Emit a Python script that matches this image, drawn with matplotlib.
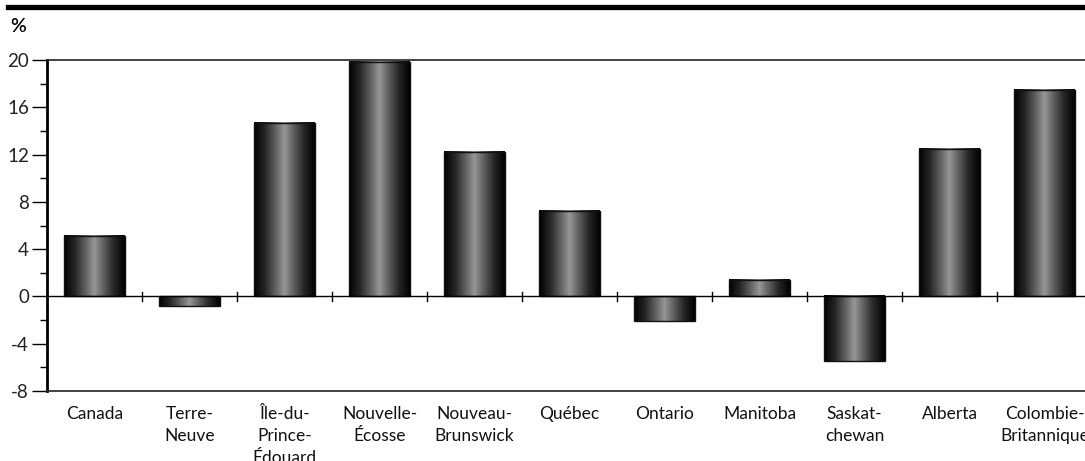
import numpy as np
import matplotlib.pyplot as plt
from matplotlib.lines import Line2D
from matplotlib.colors import LinearSegmentedColormap

plt.rcParams['font.family'] = ['Lato', 'DejaVu Sans']

# data
provinces = ['Canada', 'Terre-\nNeuve', 'Île-du-\nPrince-\nÉdouard', 'Nouvelle-\nÉcosse',
             'Nouveau-\nBrunswick', 'Québec', 'Ontario', 'Manitoba', 'Saskat-\nchewan',
             'Alberta', 'Colombie-\nBritannique']
values = [5.1, -0.8, 14.7, 19.8, 12.2, 7.2, -2.1, 1.4, -5.5, 12.5, 17.5]
yticks = [-8, -4, 0, 4, 8, 12, 16, 20]

fig = plt.figure(figsize=(10.85, 4.61), dpi=100)
ax = fig.add_axes([47 / 1085, 1 - 391 / 461, 1045 / 1085, 331 / 461])

# cylinder-like shading
cmap = LinearSegmentedColormap.from_list('cyl', [
    (0.0, '#000000'), (0.18, '#262626'), (0.38, '#6a6a6a'),
    (0.5, '#979797'), (0.62, '#6a6a6a'), (0.82, '#262626'), (1.0, '#000000')])
grad = np.linspace(0, 1, 256).reshape(1, -1)

x = np.arange(len(values))
width = 0.64
bars = ax.bar(x, values, width=width, color='none', edgecolor='#111111', linewidth=1.0, zorder=3)
for b in bars:
    x0, y0 = b.get_x(), b.get_y()
    w, h = b.get_width(), b.get_height()
    ax.imshow(grad, cmap=cmap, aspect='auto', extent=(x0, x0 + w, y0, y0 + h), zorder=2)

ax.set_xlim(-0.5, len(values) - 0.5)
ax.set_ylim(-8, 20)

# zero line with category separators
ax.axhline(0, color='black', linewidth=1.0, zorder=4)
for k in range(1, len(values)):
    ax.plot([k - 0.5, k - 0.5], [-0.35, 0.35], color='black', linewidth=1.0, zorder=4)

ax.set_yticks(yticks)
ax.set_yticklabels([str(v) for v in yticks], fontsize=13.5, color='#222222')
ax.set_yticks(np.arange(-6, 20, 4), minor=True)
ax.tick_params(axis='y', which='major', direction='out', length=11, width=1.0, pad=2)
ax.tick_params(axis='y', which='minor', direction='out', length=5, width=1.0)

ax.set_xticks(x)
ax.set_xticklabels(provinces, fontsize=12.5, linespacing=1.45, color='#111111')
ax.tick_params(axis='x', length=0, pad=11)

for s in ['top', 'bottom']:
    ax.spines[s].set_linewidth(1.2)
    ax.spines[s].set_color('#222222')
ax.spines['left'].set_linewidth(2)
ax.spines['right'].set_visible(False)

# thick rule at the top and unit label
fig.add_artist(Line2D([8 / 1085, 1.0], [1 - 7 / 461, 1 - 7 / 461], color='black', linewidth=3.8))
fig.text(10 / 1085, 1 - 27 / 461, '%', fontsize=14, fontweight='semibold', va='center', ha='left')

fig.savefig('out.png', dpi=100)
